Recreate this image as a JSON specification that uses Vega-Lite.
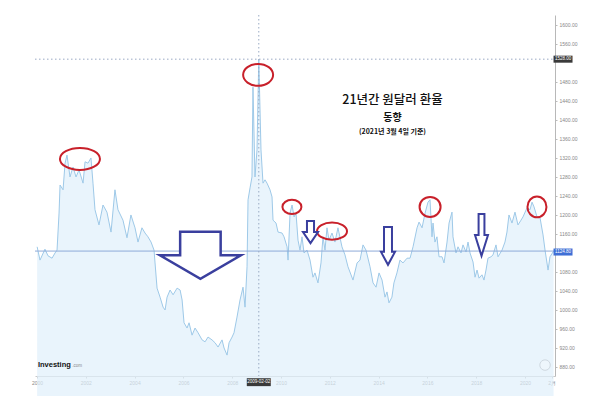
{
  "$schema": "https://vega.github.io/schema/vega-lite/v6.json",
  "autosize": "none",
  "width": 520,
  "height": 361,
  "padding": {"left": 35, "top": 15, "right": 45, "bottom": 20},
  "background": "white",
  "config": {"view": {"stroke": null}, "axis": {"labelOverlap": false, "labelFlush": false, "labelSeparation": 0}},
  "encoding": {
    "x": {
      "field": "date", "type": "temporal", "title": null,
      "scale": {"domain": [{"year": 1999, "month": 12, "date": 2}, {"year": 2021, "month": 3, "date": 25}]},
      "axis": {
        "values": [{"year":2000,"month":1,"date":1},{"year":2002,"month":1,"date":1},{"year":2004,"month":1,"date":1},{"year":2006,"month":1,"date":1},{"year":2008,"month":1,"date":1},{"year":2010,"month":1,"date":1},{"year":2012,"month":1,"date":1},{"year":2014,"month":1,"date":1},{"year":2016,"month":1,"date":1},{"year":2018,"month":1,"date":1},{"year":2020,"month":1,"date":1},{"year":2021,"month":2,"date":1}],
        "labelExpr": "month(datum.value) == 1 ? '2月' : timeFormat(datum.value, '%Y')",
        "labelFont": "Liberation Sans", "labelFontSize": 5, "labelColor": "#888",
        "tickSize": 2, "tickColor": "#bbb", "domainColor": "#c8c8c8", "labelPadding": 2, "grid": false, "labelOverlap": false
      }
    },
    "y": {
      "field": "value", "type": "quantitative", "title": null,
      "scale": {"domain": [861, 1621], "zero": false, "nice": false},
      "axis": {
        "orient": "right",
        "values": [880,920,960,1000,1040,1080,1160,1200,1240,1280,1320,1360,1400,1440,1480,1560,1600],
        "format": ".2f", "labelFont": "Liberation Sans", "labelFontSize": 5, "labelColor": "#888",
        "tickSize": 2, "tickColor": "#bbb", "domainColor": "#b8b8b8", "labelPadding": 2, "grid": false, "labelOverlap": false
      }
    }
  },
  "layer": [
    {
      "data": {"values": [
        {"date":"2000-01-03","value":1133},{"date":"2000-02-15","value":1105},{"date":"2000-04-29","value":1128},{"date":"2000-06-14","value":1114},{"date":"2000-08-13","value":1109},{"date":"2000-09-27","value":1120},{"date":"2000-10-27","value":1126},{"date":"2000-11-26","value":1204},{"date":"2000-12-11","value":1263},
        {"date":"2001-01-25","value":1253},{"date":"2001-02-24","value":1309},{"date":"2001-03-25","value":1326},{"date":"2001-05-09","value":1280},{"date":"2001-06-23","value":1301},{"date":"2001-08-07","value":1280},{"date":"2001-09-21","value":1295},{"date":"2001-11-20","value":1267},{"date":"2001-12-20","value":1312},
        {"date":"2002-02-02","value":1309},{"date":"2002-03-19","value":1320},{"date":"2002-04-18","value":1267},{"date":"2002-05-18","value":1211},{"date":"2002-07-17","value":1179},{"date":"2002-09-15","value":1221},{"date":"2002-11-13","value":1206},
        {"date":"2003-01-13","value":1164},{"date":"2003-03-13","value":1253},{"date":"2003-04-27","value":1211},{"date":"2003-07-11","value":1189},{"date":"2003-09-09","value":1152},{"date":"2003-11-07","value":1200},
        {"date":"2004-01-07","value":1173},{"date":"2004-02-21","value":1143},{"date":"2004-04-20","value":1173},{"date":"2004-06-05","value":1162},{"date":"2004-07-19","value":1154},{"date":"2004-09-03","value":1143},{"date":"2004-10-18","value":1126},{"date":"2004-11-02","value":1099},{"date":"2004-12-02","value":1046},
        {"date":"2005-01-16","value":1027},{"date":"2005-03-02","value":1006},{"date":"2005-04-01","value":1000},{"date":"2005-05-01","value":1027},{"date":"2005-06-15","value":1042},{"date":"2005-07-30","value":1032},{"date":"2005-09-28","value":1046},{"date":"2005-11-12","value":1042},{"date":"2005-12-12","value":1021},
        {"date":"2006-01-10","value":973},{"date":"2006-02-24","value":962},{"date":"2006-03-26","value":973},{"date":"2006-05-10","value":947},{"date":"2006-06-24","value":962},{"date":"2006-08-08","value":952},{"date":"2006-10-07","value":937},{"date":"2006-11-21","value":933},
        {"date":"2007-01-04","value":943},{"date":"2007-03-05","value":937},{"date":"2007-04-19","value":931},{"date":"2007-06-03","value":922},{"date":"2007-08-02","value":937},{"date":"2007-09-01","value":920},{"date":"2007-10-16","value":905},{"date":"2007-11-15","value":931},{"date":"2007-12-30","value":943},
        {"date":"2008-01-28","value":952},{"date":"2008-03-13","value":985},{"date":"2008-04-27","value":1021},{"date":"2008-06-11","value":1048},{"date":"2008-07-11","value":1006},{"date":"2008-08-10","value":1091},{"date":"2008-08-25","value":1232},{"date":"2008-09-24","value":1257},{"date":"2008-10-23","value":1280},{"date":"2008-11-07","value":1469},{"date":"2008-12-07","value":1280},
        {"date":"2009-01-06","value":1337},{"date":"2009-02-02","value":1528},{"date":"2009-03-07","value":1337},{"date":"2009-04-06","value":1267},{"date":"2009-05-06","value":1274},{"date":"2009-06-05","value":1267},{"date":"2009-07-20","value":1253},{"date":"2009-08-19","value":1238},{"date":"2009-09-03","value":1189},{"date":"2009-10-18","value":1183},{"date":"2009-11-17","value":1164},
        {"date":"2010-01-16","value":1162},{"date":"2010-02-15","value":1154},{"date":"2010-04-01","value":1133},{"date":"2010-04-16","value":1105},{"date":"2010-05-16","value":1204},{"date":"2010-06-15","value":1221},{"date":"2010-07-15","value":1196},{"date":"2010-08-13","value":1204},{"date":"2010-09-12","value":1147},{"date":"2010-10-12","value":1126},{"date":"2010-11-11","value":1154},{"date":"2010-12-11","value":1120},
        {"date":"2011-01-25","value":1126},{"date":"2011-03-11","value":1105},{"date":"2011-04-24","value":1069},{"date":"2011-05-24","value":1078},{"date":"2011-07-08","value":1057},{"date":"2011-08-22","value":1099},{"date":"2011-09-21","value":1154},{"date":"2011-10-21","value":1126},{"date":"2011-11-20","value":1173},{"date":"2011-12-20","value":1147},
        {"date":"2012-02-03","value":1162},{"date":"2012-03-18","value":1143},{"date":"2012-05-02","value":1173},{"date":"2012-07-01","value":1133},{"date":"2012-08-15","value":1116},{"date":"2012-09-29","value":1091},{"date":"2012-12-13","value":1063},
        {"date":"2013-02-12","value":1099},{"date":"2013-03-28","value":1105},{"date":"2013-05-12","value":1137},{"date":"2013-06-26","value":1126},{"date":"2013-08-25","value":1091},{"date":"2013-10-09","value":1057},{"date":"2013-11-23","value":1048},
        {"date":"2014-01-07","value":1078},{"date":"2014-02-21","value":1063},{"date":"2014-04-06","value":1027},{"date":"2014-05-06","value":1038},{"date":"2014-06-05","value":1015},{"date":"2014-07-19","value":1027},{"date":"2014-08-18","value":1057},{"date":"2014-10-02","value":1078},{"date":"2014-11-16","value":1105},
        {"date":"2015-01-01","value":1099},{"date":"2015-03-02","value":1109},{"date":"2015-04-16","value":1109},{"date":"2015-05-31","value":1133},{"date":"2015-07-30","value":1173},{"date":"2015-08-29","value":1185},{"date":"2015-10-13","value":1173},{"date":"2015-11-27","value":1204},
        {"date":"2016-01-10","value":1227},{"date":"2016-02-09","value":1232},{"date":"2016-03-10","value":1154},{"date":"2016-03-25","value":1183},{"date":"2016-04-23","value":1143},{"date":"2016-05-23","value":1154},{"date":"2016-06-23","value":1112},{"date":"2016-08-07","value":1112},{"date":"2016-09-06","value":1099},{"date":"2016-10-21","value":1143},{"date":"2016-11-20","value":1183},
        {"date":"2017-01-03","value":1206},{"date":"2017-01-18","value":1154},{"date":"2017-03-04","value":1120},{"date":"2017-04-03","value":1133},{"date":"2017-05-18","value":1120},{"date":"2017-06-17","value":1137},{"date":"2017-08-01","value":1122},{"date":"2017-08-31","value":1143},{"date":"2017-09-30","value":1120},{"date":"2017-11-14","value":1101},{"date":"2017-12-14","value":1069},
        {"date":"2018-01-13","value":1084},{"date":"2018-02-12","value":1067},{"date":"2018-03-28","value":1074},{"date":"2018-04-27","value":1063},{"date":"2018-05-27","value":1084},{"date":"2018-06-26","value":1109},{"date":"2018-08-10","value":1112},{"date":"2018-09-09","value":1116},{"date":"2018-10-24","value":1137},{"date":"2018-11-23","value":1112},
        {"date":"2019-01-22","value":1126},{"date":"2019-03-07","value":1143},{"date":"2019-04-06","value":1164},{"date":"2019-05-06","value":1200},{"date":"2019-06-20","value":1183},{"date":"2019-08-04","value":1206},{"date":"2019-09-18","value":1179},{"date":"2019-11-02","value":1189},{"date":"2019-12-02","value":1196},
        {"date":"2020-01-31","value":1215},{"date":"2020-03-16","value":1211},{"date":"2020-04-15","value":1227},{"date":"2020-05-15","value":1217},{"date":"2020-06-29","value":1196},{"date":"2020-08-13","value":1194},{"date":"2020-09-27","value":1158},{"date":"2020-10-27","value":1126},{"date":"2020-12-11","value":1084},
        {"date":"2021-01-09","value":1112},{"date":"2021-03-04","value":1124}
      ]},
      "mark": {"type": "area", "color": "#e0f0fb", "line": {"color": "#9ec9e8", "strokeWidth": 1}},
      "encoding": {}
    },
    {
      "data": {"values": [{"date": "1999-12-02", "date2": "2021-03-25", "value": 1124}], "format": {"parse": {"date": "date", "date2": "date"}}},
      "mark": {"type": "rule", "color": "#8eaad8", "strokeWidth": 1},
      "encoding": {"x2": {"field": "date2"}}
    },
    {
      "data": {"values": [{"date": "1999-12-02", "date2": "2021-03-25", "value": 1528}], "format": {"parse": {"date": "date", "date2": "date"}}},
      "mark": {"type": "rule", "color": "#9aaac4", "strokeWidth": 1, "strokeDash": [1.5, 2.5]},
      "encoding": {"x2": {"field": "date2"}}
    },
    {
      "data": {"values": [{"date": "2009-02-02", "value": 1621, "value2": 861}]},
      "mark": {"type": "rule", "color": "#9aaac4", "strokeWidth": 1, "strokeDash": [1.5, 2.5]},
      "encoding": {"y2": {"field": "value2"}}
    },
    {
      "data": {"values": [{"date": "2001-10-05", "value": 1318}]},
      "mark": {"type": "point", "filled": false, "stroke": "#c8202a", "strokeWidth": 2, "opacity": 1, "size": 1600,
        "shape": "M-1,0C-1,-0.304 -0.552,-0.55 0,-0.55C0.552,-0.55 1,-0.304 1,0C1,0.304 0.552,0.55 0,0.55C-0.552,0.55 -1,0.304 -1,0Z"},
      "encoding": {}
    },
    {
      "data": {"values": [{"date": "2009-01-23", "value": 1495}]},
      "mark": {"type": "point", "filled": false, "stroke": "#c8202a", "strokeWidth": 2, "opacity": 1, "size": 900,
        "shape": "M-1,0C-1,-0.403 -0.552,-0.73 0,-0.73C0.552,-0.73 1,-0.403 1,0C1,0.403 0.552,0.73 0,0.73C-0.552,0.73 -1,0.403 -1,0Z"},
      "encoding": {}
    },
    {
      "data": {"values": [{"date": "2010-06-13", "value": 1217}]},
      "mark": {"type": "point", "filled": false, "stroke": "#c8202a", "strokeWidth": 2, "opacity": 1, "size": 361,
        "shape": "M-1,0C-1,-0.409 -0.552,-0.74 0,-0.74C0.552,-0.74 1,-0.409 1,0C1,0.409 0.552,0.74 0,0.74C-0.552,0.74 -1,0.409 -1,0Z"},
      "encoding": {}
    },
    {
      "data": {"values": [{"date": "2012-02-03", "value": 1166}]},
      "mark": {"type": "point", "filled": false, "stroke": "#c8202a", "strokeWidth": 2, "opacity": 1, "size": 900,
        "shape": "M-1,0C-1,-0.315 -0.552,-0.57 0,-0.57C0.552,-0.57 1,-0.315 1,0C1,0.315 0.552,0.57 0,0.57C-0.552,0.57 -1,0.315 -1,0Z"},
      "encoding": {}
    },
    {
      "data": {"values": [{"date": "2016-02-10", "value": 1217}]},
      "mark": {"type": "point", "filled": false, "stroke": "#c8202a", "strokeWidth": 2, "opacity": 1, "size": 441,
        "shape": "M-1,0C-1,-0.525 -0.552,-0.95 0,-0.95C0.552,-0.95 1,-0.525 1,0C1,0.525 0.552,0.95 0,0.95C-0.552,0.95 -1,0.525 -1,0Z"},
      "encoding": {}
    },
    {
      "data": {"values": [{"date": "2020-06-28", "value": 1217}]},
      "mark": {"type": "point", "filled": false, "stroke": "#c8202a", "strokeWidth": 2, "opacity": 1, "size": 361,
        "shape": "M-1,0C-1,-0.608 -0.552,-1.1 0,-1.1C0.552,-1.1 1,-0.608 1,0C1,0.608 0.552,1.1 0,1.1C-0.552,1.1 -1,0.608 -1,0Z"},
      "encoding": {}
    },
    {
      "data": {"values": [{"date": "2006-09-12", "value": 1115}]},
      "mark": {"type": "point", "filled": true, "fill": "white", "fillOpacity": 1, "stroke": "#3a3f9e", "strokeWidth": 2.5, "opacity": 1, "size": 6561,
        "shape": "M-0.5,-0.58L0.5,-0.58L0.5,0L1,0L0,0.58L-1,0L-0.5,0Z"},
      "encoding": {}
    },
    {
      "data": {"values": [{"date": "2011-03-18", "value": 1164}]},
      "mark": {"type": "point", "filled": true, "fill": "white", "fillOpacity": 1, "stroke": "#3a3f9e", "strokeWidth": 2, "opacity": 1, "size": 225,
        "shape": "M-0.47,-1.47L0.47,-1.47L0.47,0L1,0L0,1.47L-1,0L-0.47,0Z"},
      "encoding": {}
    },
    {
      "data": {"values": [{"date": "2014-05-21", "value": 1135}]},
      "mark": {"type": "point", "filled": true, "fill": "white", "fillOpacity": 1, "stroke": "#3a3f9e", "strokeWidth": 2, "opacity": 1, "size": 196,
        "shape": "M-0.57,-2.71L0.57,-2.71L0.57,0.86L1,0.86L0,2.71L-1,0.86L-0.57,0.86Z"},
      "encoding": {}
    },
    {
      "data": {"values": [{"date": "2018-03-21", "value": 1158}]},
      "mark": {"type": "point", "filled": true, "fill": "white", "fillOpacity": 1, "stroke": "#3a3f9e", "strokeWidth": 2, "opacity": 1, "size": 169,
        "shape": "M-0.45,-3.23L0.45,-3.23L0.45,0L1,0L0,3.23L-1,0L-0.45,0Z"},
      "encoding": {}
    },
    {
      "data": {"values": [{"date": "2020-10-27", "value": 884}]},
      "mark": {"type": "point", "filled": true, "fill": "#eef6fc", "stroke": "#cfd8e0", "strokeWidth": 1, "opacity": 1, "size": 110, "shape": "circle"},
      "encoding": {}
    },
    {
      "data": {"values": [{"date": "2009-02-02", "value": 848}]},
      "mark": {"type": "point", "filled": true, "fill": "#3a3a3a", "stroke": null, "opacity": 1, "size": 576,
        "shape": "M-1,-0.33L1,-0.33L1,0.33L-1,0.33Z"},
      "encoding": {}
    },
    {
      "data": {"values": [{"date": "2021-07-23", "value": 1528}]},
      "mark": {"type": "point", "filled": true, "fill": "#3a3a3a", "stroke": null, "opacity": 1, "size": 361,
        "shape": "M-1,-0.37L1,-0.37L1,0.37L-1,0.37Z"},
      "encoding": {}
    },
    {
      "data": {"values": [{"date": "2021-07-23", "value": 1122}]},
      "mark": {"type": "point", "filled": true, "fill": "#3f6fd6", "stroke": null, "opacity": 1, "size": 361,
        "shape": "M-1,-0.37L1,-0.37L1,0.37L-1,0.37Z"},
      "encoding": {}
    },
    {
      "data": {"values": [{"date": "2021-07-23", "value": 1528, "label": "1528.00"}, {"date": "2009-02-02", "value": 848, "label": "2009-02-02"}, {"date": "2021-07-23", "value": 1122, "label": "1124.80"}]},
      "mark": {"type": "text", "color": "white", "font": "Liberation Sans", "fontSize": 4.5, "align": "center", "baseline": "middle"},
      "encoding": {"text": {"field": "label"}}
    },
    {
      "data": {"values": [{"date": "2000-01-15", "value": 884, "label": "Investing"}]},
      "mark": {"type": "text", "color": "#111", "font": "Liberation Sans", "fontSize": 7.5, "fontWeight": "bold", "align": "left", "baseline": "middle"},
      "encoding": {"text": {"field": "label"}}
    },
    {
      "data": {"values": [{"date": "2001-06-10", "value": 882, "label": ".com"}]},
      "mark": {"type": "text", "color": "#888", "font": "Liberation Sans", "fontSize": 4.5, "align": "left", "baseline": "middle"},
      "encoding": {"text": {"field": "label"}}
    },
    {
      "data": {"values": [{"date": "2014-07-27", "value": 1442, "label": "21년간 원달러 환율"}]},
      "mark": {"type": "text", "color": "#111", "font": "Noto Sans CJK KR", "fontSize": 12.5, "fontWeight": 500, "align": "center", "baseline": "middle"},
      "encoding": {"text": {"field": "label"}}
    },
    {
      "data": {"values": [{"date": "2014-07-27", "value": 1404, "label": "동향"}]},
      "mark": {"type": "text", "color": "#111", "font": "Noto Sans CJK KR", "fontSize": 10, "fontWeight": "bold", "align": "center", "baseline": "middle"},
      "encoding": {"text": {"field": "label"}}
    },
    {
      "data": {"values": [{"date": "2014-07-27", "value": 1375, "label": "(2021년 3월 4일 기준)"}]},
      "mark": {"type": "text", "color": "#111", "font": "Noto Sans CJK KR", "fontSize": 7, "fontWeight": "bold", "align": "center", "baseline": "middle"},
      "encoding": {"text": {"field": "label"}}
    }
  ]
}
